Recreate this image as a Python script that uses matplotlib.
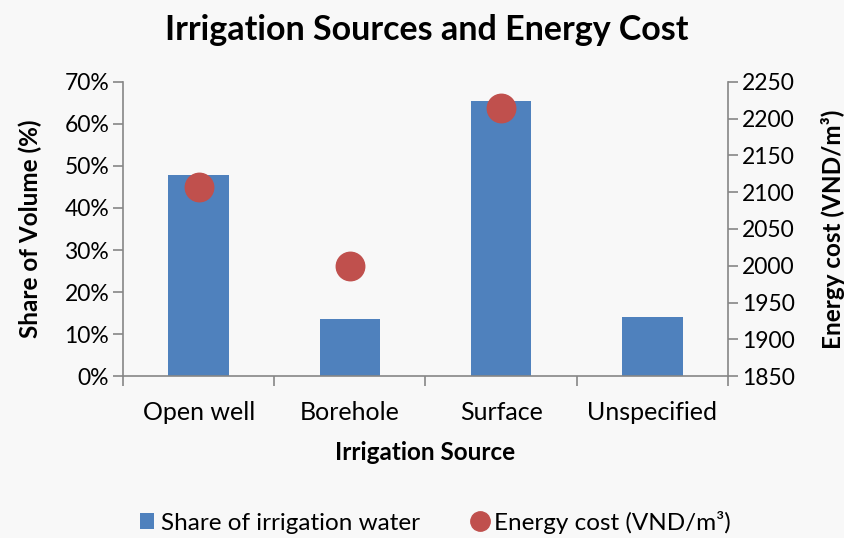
import matplotlib
matplotlib.use("Agg")
import matplotlib.pyplot as plt
from matplotlib.ticker import PercentFormatter
import numpy as np

plt.rcParams['font.family'] = ['Lato', 'DejaVu Sans']

sources = ['Open well', 'Borehole', 'Surface', 'Unspecified']
share = [47.8, 13.6, 65.5, 14.0]          # % of irrigation volume
energy_cost = [2107, 1999, 2214, None]    # VND/m3, no value for Unspecified

bar_color = '#4F81BD'
dot_color = '#C0504D'
spine_color = '#868686'
bg = '#F8F8F8'

fig = plt.figure(figsize=(8.45, 5.38), dpi=100, facecolor=bg)
ax = fig.add_axes([0.1456, 0.3011, 0.7159, 0.5465], facecolor=bg)
ax2 = ax.twinx()

x = np.arange(len(sources))
ax.bar(x, share, width=0.4, color=bar_color, zorder=2, label='Share of irrigation water')

xs = [i for i, v in zip(x, energy_cost) if v is not None]
ys = [v for v in energy_cost if v is not None]
ax2.plot(xs, ys, 'o', ms=20.5, color=dot_color, mec=dot_color, ls='none',
         label='Energy cost (VND/m³)', zorder=3)

ax.set_xlim(-0.5, len(sources) - 0.5)
ax.set_ylim(0, 70)
ax.set_yticks(np.arange(0, 71, 10))
ax.yaxis.set_major_formatter(PercentFormatter(decimals=0))
ax2.set_ylim(1850, 2250)
ax2.set_yticks(np.arange(1850, 2251, 50))

ax.set_xticks(x)
ax.set_xticklabels(sources)
ax.set_xticks(np.arange(-0.5, len(sources)), minor=True)
ax.tick_params(axis='x', which='major', length=0, pad=18, labelsize=18)
ax.tick_params(axis='x', which='minor', length=7, color=spine_color, width=1.2)
ax.tick_params(axis='y', length=7, color=spine_color, width=1.2, labelsize=16.5, pad=3)
ax2.tick_params(axis='y', length=7, color=spine_color, width=1.2, labelsize=16.5, pad=3)

for a in (ax, ax2):
    a.spines['top'].set_visible(False)
    for s in ('left', 'right', 'bottom'):
        a.spines[s].set_color(spine_color)
        a.spines[s].set_linewidth(1.2)
ax.spines['right'].set_visible(False)
ax2.spines['left'].set_visible(False)
ax2.spines['bottom'].set_visible(False)

ax.set_xlabel('Irrigation Source', fontsize=17.5, fontweight='bold', va='center')
ax.xaxis.set_label_coords(0.5, -0.2585)
ax.set_ylabel('Share of Volume (%)', fontsize=17.5, fontweight='bold', va='center')
ax.yaxis.set_label_coords(-0.1537, 0.5)
ax2.set_ylabel('Energy cost (VND/m³)', fontsize=17.5, fontweight='bold', va='center')
ax2.yaxis.set_label_coords(1.1736, 0.5)

fig.suptitle('Irrigation Sources and Energy Cost', fontsize=24.5, fontweight='bold',
             x=0.505, y=0.945, va='center')

h1, l1 = ax.get_legend_handles_labels()
h2, l2 = ax2.get_legend_handles_labels()
fig.legend(h1 + h2, l1 + l2, loc='center', bbox_to_anchor=(0.515, 0.0297), ncol=2,
           frameon=False, fontsize=17.5, handlelength=0.6, handleheight=0.6,
           columnspacing=2.2, handletextpad=0.25, markerscale=0.68)

fig.savefig('out.png', dpi=100, facecolor=bg)
